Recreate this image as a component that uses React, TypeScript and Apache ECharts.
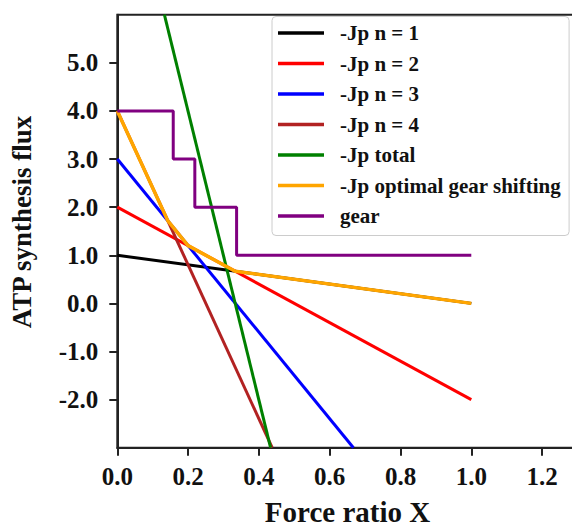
import React, { useEffect, useRef } from "react";
import * as echarts from "echarts";

const xTickValues = [0, 0.2, 0.4, 0.6, 0.8, 1.0, 1.2];
const yTickValues = [-2, -1, 0, 1, 2, 3, 4, 5];

const seriesNames = [
  "-Jp n = 1",
  "-Jp n = 2",
  "-Jp n = 3",
  "-Jp n = 4",
  "-Jp total",
  "-Jp optimal gear shifting",
  "gear",
];
const seriesColors = ["#000000", "#ff0000", "#0000ff", "#b22222", "#008000", "#ffa500", "#800080"];

const n1X = [0, 1.0];
const n1Y = [1, 0];
const n2X = [0, 1.0];
const n2Y = [2, -2];
const n3X = [0, 0.667];
const n3Y = [3, -3];
const n4X = [0, 0.4375];
const n4Y = [4, -3];
const totalX = [0.133, 0.433];
const totalY = [6, -3];
const optX = [0, 0.143, 0.2, 0.333, 1.0];
const optY = [4, 1.714, 1.2, 0.667, 0];
const gearX = [0, 0.158, 0.219, 0.337, 1.0];
const gearY = [4, 3, 2, 1, 1];

const FONT = "'Liberation Serif', 'Times New Roman', serif";

function pairs(xs: number[], ys: number[]) {
  return xs.map((x, i) => [x, ys[i]]);
}

export default function App() {
  const ref = useRef<HTMLDivElement>(null);
  useEffect(() => {
    if (!ref.current) return;
    const chart = echarts.init(ref.current, null, { renderer: "svg" });
    const allData = [
      pairs(n1X, n1Y),
      pairs(n2X, n2Y),
      pairs(n3X, n3Y),
      pairs(n4X, n4Y),
      pairs(totalX, totalY),
      pairs(optX, optY),
      pairs(gearX, gearY),
    ];
    const series = allData.map((d, i) => ({
      name: seriesNames[i],
      type: "line",
      data: d,
      showSymbol: false,
      symbol: "none",
      step: i === 6 ? "end" : false,
      clip: true,
      z: 2 + i,
      lineStyle: { color: seriesColors[i], width: i === 5 ? 3.5 : 3 },
      itemStyle: { color: seriesColors[i] },
    }));
    chart.setOption({
      animation: false,
      backgroundColor: "#ffffff",
      grid: {
        left: 117.3,
        top: 14.7,
        width: 460.2,
        height: 433,
        outerBoundsMode: "none",
        containLabel: false,
        show: true,
        borderColor: "#222",
        borderWidth: 2,
        backgroundColor: "transparent",
      },
      xAxis: {
        type: "value",
        min: 0,
        max: 1.3,
        interval: 0.2,
        splitLine: { show: false },
        axisLine: { show: true, onZero: false, lineStyle: { color: "#222", width: 2 } },
        axisTick: { show: true, length: 8, lineStyle: { color: "#222", width: 2 }, customValues: xTickValues },
        axisLabel: {
          customValues: xTickValues,
          formatter: (v: number) => v.toFixed(1),
          margin: 16,
          fontFamily: FONT,
          fontWeight: "bold",
          fontSize: 25,
          color: "#111",
        },
      },
      yAxis: {
        type: "value",
        min: -3,
        max: 6,
        interval: 1,
        splitLine: { show: false },
        axisLine: { show: true, onZero: false, lineStyle: { color: "#222", width: 2 } },
        axisTick: { show: true, length: 8, lineStyle: { color: "#222", width: 2 }, customValues: yTickValues },
        axisLabel: {
          customValues: yTickValues,
          formatter: (v: number) => v.toFixed(1),
          margin: 19,
          fontFamily: FONT,
          fontWeight: "bold",
          fontSize: 25,
          color: "#111",
        },
      },
      legend: {
        orient: "vertical",
        left: 272,
        top: 16.5,
        data: seriesNames,
        icon: "rect",
        itemWidth: 46,
        itemHeight: 3.5,
        itemGap: 9.5,
        padding: [6, 8, 9, 6],
        borderColor: "#cccccc",
        borderWidth: 1,
        borderRadius: 4,
        backgroundColor: "#ffffff",
        textStyle: {
          fontFamily: FONT,
          fontWeight: "bold",
          fontSize: 21,
          lineHeight: 21,
          color: "#111",
          padding: [0, 0, 0, 11],
        },
      },
      graphic: [
        {
          type: "text",
          x: 347.5,
          y: 512,
          style: {
            text: "Force ratio X",
            font: `bold 29px ${FONT}`,
            fill: "#111",
            textAlign: "center",
            textVerticalAlign: "middle",
          },
        },
        {
          type: "text",
          x: 22,
          y: 222,
          rotation: Math.PI / 2,
          style: {
            text: "ATP synthesis flux",
            font: `bold 27px ${FONT}`,
            fill: "#111",
            textAlign: "center",
            textVerticalAlign: "middle",
          },
        },
      ],
      series,
    });
    return () => chart.dispose();
  }, []);
  return <div ref={ref} style={{ position: "fixed", left: 0, top: 0, width: 572, height: 528 }} />;
}
